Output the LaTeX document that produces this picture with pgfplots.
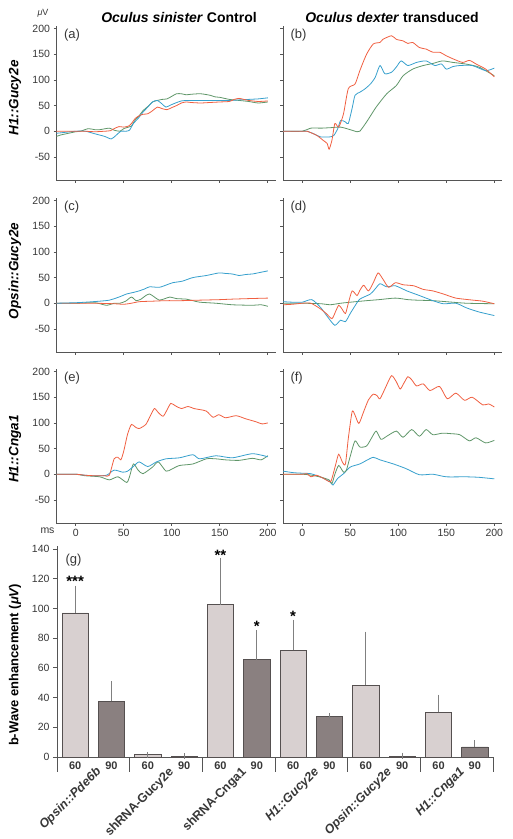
\documentclass[border=0pt]{standalone}
\usepackage{fontspec}
\setmainfont{Liberation Sans}
\usepackage{pgfplots}
\pgfplotsset{compat=1.18}
\definecolor{cred}{RGB}{240,95,65}
\definecolor{cblue}{RGB}{55,160,205}
\definecolor{cgreen}{RGB}{95,150,105}
\definecolor{axgray}{RGB}{85,85,85}
\definecolor{txtgray}{RGB}{55,55,55}
\definecolor{barlight}{RGB}{216,208,208}
\definecolor{bardark}{RGB}{138,128,128}
\definecolor{baredge}{RGB}{85,80,80}
\pgfplotsset{
  erg/.style={scale only axis, width=219pt, height=154pt, anchor=south west,
    xmin=-20, xmax=208, ymin=-95, ymax=205, clip mode=individual,
    axis lines=left, axis line style={-, draw=axgray, line width=0.8pt},
    tick align=outside, major tick length=3pt, tick style={draw=axgray, line width=0.7pt},
    xtick={0,50,100,150,200}, ytick={-50,0,50,100,150,200},
    tick label style={font=\fontsize{10.5}{12}\selectfont, text=txtgray},
    /pgf/number format/assume math mode=true,
    every axis plot/.append style={line width=0.8pt, no markers, smooth, tension=0.4},
  },
}
\tikzset{plab/.style={anchor=west, font=\fontsize{13}{14}\selectfont, text=txtgray, xshift=4pt, yshift=-9pt}}
\begin{document}
\begin{tikzpicture}
\useasboundingbox (0,0) rectangle (512pt,839pt);
% (a)
\begin{axis}[erg, at={(56.5pt,659pt)}, xticklabels={}]
\addplot[cgreen] coordinates {(-20,-10)(-15,-7)(-10,-5)(-5,-3)(0,-1)(5,0)(13,5)(20,3)(25,3)(35,6)(40,2)(46,0)(50,5)(55,8)(58,10)(62,22)(66,30)(70,40)(75,48)(80,57)(85,60)(90,62)(95,63)(100,68)(105,73)(110,73)(115,71)(120,72)(130,73)(140,70)(145,67)(150,66)(160,62)(170,60)(180,58)(190,55)(200,57)};
\addplot[cblue] coordinates {(-20,-4)(-10,-2)(0,0)(10,0)(20,-5)(30,-10)(37,-15)(42,-8)(47,0)(52,0)(56,2)(60,15)(65,25)(70,37)(75,47)(80,57)(85,60)(90,53)(94,47)(100,52)(110,59)(120,60)(140,60)(160,60)(170,61)(180,62)(190,63)(200,65)};
\addplot[cred] coordinates {(-20,0)(-10,0)(0,0)(10,0)(20,-1)(30,0)(36,1)(40,5)(45,9)(50,8)(55,10)(58,15)(62,25)(66,30)(70,33)(75,34)(80,40)(85,47)(90,44)(95,42)(100,46)(105,50)(110,55)(115,57)(120,56)(130,55)(140,56)(150,57)(160,58)(165,62)(170,64)(175,62)(180,60)(190,58)(200,59)};
\node[plab] at (rel axis cs:0,1) {(a)};
\end{axis}
% (b)
\begin{axis}[erg, at={(283pt,659pt)}, xticklabels={}, yticklabels={}]
\addplot[cgreen] coordinates {(-20,0)(0,0)(9,6)(20,6)(30,7)(40,8)(50,3)(57,-1)(60,0)(67,18)(77,47)(88,73)(98,89)(105,108)(115,121)(126,128)(136,132)(146,137)(157,134)(170,131)(184,125)(200,108)};
\addplot[cblue] coordinates {(-20,0)(0,0)(5,0)(12,-5)(19,-11)(29,-11)(33,-8)(37,5)(40,21)(45,18)(48,15)(52,45)(55,70)(60,76)(65,82)(71,92)(76,105)(81,128)(86,112)(93,115)(98,125)(103,137)(110,128)(119,134)(129,137)(138,128)(145,131)(150,121)(157,126)(164,128)(177,128)(191,118)(200,123)};
\addplot[cred] coordinates {(-20,0)(0,0)(5,0)(15,-8)(22,-18)(26,-24)(28,-35)(31,-17)(34,15)(38,8)(43,34)(48,83)(55,92)(60,118)(67,150)(74,170)(81,173)(84,179)(93,186)(98,179)(105,176)(110,171)(115,173)(122,163)(129,160)(136,154)(143,154)(150,147)(157,141)(167,134)(174,138)(181,131)(191,121)(200,106)};
\node[plab] at (rel axis cs:0,1) {(b)};
\end{axis}
% (c)
\begin{axis}[erg, at={(56.5pt,487pt)}, xticklabels={}]
\addplot[cgreen] coordinates {(-20,0)(0,0)(20,1)(32,-4)(40,0)(46,0)(52,4)(58,12)(63,5)(68,8)(73,15)(77,18)(82,12)(87,6)(93,9)(98,12)(105,9)(115,8)(122,5)(129,2)(146,0)(163,-3)(184,-4)(193,-3)(200,-6)};
\addplot[cred] coordinates {(-20,0)(0,0)(20,0)(40,-1)(50,-2)(58,0)(66,3)(80,4)(94,5)(110,5)(129,6)(150,7)(163,8)(180,9)(200,10)};
\addplot[cblue] coordinates {(-20,0)(0,1)(10,2)(25,4)(35,6)(45,12)(53,18)(60,21)(66,24)(72,28)(77,32)(87,31)(95,36)(101,40)(111,43)(122,50)(136,54)(149,59)(156,58)(163,57)(170,54)(177,56)(184,57)(192,60)(200,63)};
\node[plab] at (rel axis cs:0,1) {(c)};
\end{axis}
% (d)
\begin{axis}[erg, at={(283pt,487pt)}, xticklabels={}, yticklabels={}]
\addplot[cgreen] coordinates {(-20,0)(0,0)(20,-1)(29,-3)(40,0)(50,2)(67,5)(80,7)(97,10)(110,7)(119,6)(136,5)(150,3)(171,0)(200,-1)};
\addplot[cblue] coordinates {(-20,3)(-10,2)(0,2)(10,7)(19,-8)(27,-28)(34,-43)(40,-33)(45,-36)(50,-20)(55,-5)(60,8)(71,18)(76,28)(81,38)(88,32)(97,34)(109,24)(122,15)(136,5)(147,-1)(160,0)(171,-9)(184,-17)(200,-24)};
\addplot[cred] coordinates {(-20,-3)(-10,-2)(0,0)(9,0)(19,-11)(25,-20)(31,-30)(35,-15)(38,-4)(41,-10)(45,-20)(48,0)(52,24)(57,15)(60,25)(64,35)(69,24)(74,40)(79,59)(84,47)(90,31)(97,40)(105,36)(116,34)(126,27)(136,24)(147,18)(160,10)(178,6)(188,4)(200,-1)};
\node[plab] at (rel axis cs:0,1) {(d)};
\end{axis}
% (e)
\begin{axis}[erg, at={(56.5pt,316pt)}]
\addplot[cgreen] coordinates {(-20,0)(0,0)(10,-3)(25,-5)(35,-11)(44,-5)(53,-16)(56,-5)(60,20)(65,8)(70,1)(80,14)(86,24)(94,6)(100,10)(108,17)(122,20)(136,30)(146,30)(156,28)(170,27)(184,31)(193,28)(200,36)};
\addplot[cblue] coordinates {(-20,0)(0,0)(10,-2)(20,-3)(32,-2)(40,8)(49,4)(54,6)(60,15)(66,24)(75,15)(84,24)(94,30)(108,32)(122,38)(129,30)(146,36)(163,32)(184,40)(200,34)};
\addplot[cred] coordinates {(-20,0)(0,0)(10,-2)(20,-3)(30,-3)(35,-2)(40,30)(44,33)(47,28)(50,45)(54,78)(58,97)(62,92)(66,89)(73,97)(78,115)(82,128)(86,120)(91,113)(95,125)(99,138)(104,133)(110,128)(117,132)(123,128)(129,126)(136,123)(143,111)(149,116)(156,110)(167,114)(177,108)(188,102)(194,98)(200,100)};
\node[plab] at (rel axis cs:0,1) {(e)};
\node[font=\fontsize{10.5}{12}\selectfont, text=txtgray] at (rel axis cs:0,0) [xshift=-9pt, yshift=-8pt] {ms};
\end{axis}
% (f)
\begin{axis}[erg, at={(283pt,316pt)}, yticklabels={}]
\addplot[cblue] coordinates {(-20,6)(-9,3)(0,2)(9,1)(20,-6)(29,-15)(32,-21)(37,-8)(43,1)(50,14)(60,20)(67,27)(74,33)(81,28)(95,20)(108,11)(122,-1)(136,0)(150,-5)(170,-5)(184,-6)(200,-9)};
\addplot[cgreen] coordinates {(-20,0)(0,0)(10,-2)(20,-6)(28,-11)(31,-18)(34,0)(38,17)(43,4)(46,8)(50,35)(55,65)(60,53)(67,55)(72,70)(77,84)(82,68)(88,74)(98,84)(105,72)(114,87)(122,74)(129,87)(136,77)(146,80)(155,79)(164,77)(174,65)(181,71)(191,61)(200,66)};
\addplot[cred] coordinates {(-20,0)(0,0)(5,1)(9,-5)(15,-2)(22,-8)(29,-15)(31,-8)(35,20)(38,39)(42,23)(45,20)(48,70)(52,122)(55,115)(59,99)(64,122)(69,145)(74,156)(78,153)(81,147)(87,170)(93,192)(98,180)(102,166)(106,178)(110,190)(114,184)(119,172)(126,176)(133,163)(143,171)(151,147)(160,158)(169,144)(177,150)(188,135)(194,137)(200,131)};
\node[plab] at (rel axis cs:0,1) {(f)};
\end{axis}
% (g)
\begin{axis}[scale only axis, width=436pt, height=211pt, anchor=south west, at={(57pt,82pt)},
  xmin=0, xmax=12, ymin=0, ymax=142,
  axis lines=left, axis line style={-, draw=axgray, line width=0.9pt},
  tick align=outside, major tick length=4pt, tick style={draw=axgray, line width=0.8pt},
  ytick={0,20,...,140},
  xtick={0.5,1.5,...,11.5}, xticklabels={60,90,60,90,60,90,60,90,60,90,60,90},
  xtick style={draw=none},
  y tick label style={font=\fontsize{10.5}{12}\selectfont, text=txtgray},
  x tick label style={font=\bfseries\fontsize{11}{12}\selectfont, text=txtgray, yshift=2.5pt},
  /pgf/number format/assume math mode=true,
  clip=false]
\addplot[ybar, bar width=0.72, bar shift=0, fill=barlight, draw=baredge, line width=0.7pt,
  error bars/.cd, y dir=plus, y explicit,
  error bar style={draw=gray, line width=0.9pt},
  error mark options={draw=gray, mark size=3pt, line width=0.9pt}]
  coordinates {(0.5,97) +- (0,16.3) (2.5,1.5) +- (0,0) (4.5,102.5) +- (0,29.3) (6.5,72) +- (0,18.5) (8.5,48.3) +- (0,34) (10.5,30) +- (0,10)};
\addplot[ybar, bar width=0.72, bar shift=0, fill=bardark, draw=baredge, line width=0.7pt,
  error bars/.cd, y dir=plus, y explicit,
  error bar style={draw=gray, line width=0.9pt},
  error mark options={draw=gray, mark size=3pt, line width=0.9pt}]
  coordinates {(1.5,37.5) +- (0,11.5) (3.5,0.4) +- (0,0) (5.5,65.5) +- (0,18) (7.5,27.3) +- (0,0.3) (9.5,0.5) +- (0,0.5) (11.5,6.8) +- (0,2.5)};
\draw[axgray, line width=0.9pt] (axis cs:0,0) -- ++(0,-15pt);
\draw[axgray, line width=0.9pt] (axis cs:2,0) -- ++(0,-15pt);
\draw[axgray, line width=0.9pt] (axis cs:4,0) -- ++(0,-15pt);
\draw[axgray, line width=0.9pt] (axis cs:6,0) -- ++(0,-15pt);
\draw[axgray, line width=0.9pt] (axis cs:8,0) -- ++(0,-15pt);
\draw[axgray, line width=0.9pt] (axis cs:10,0) -- ++(0,-15pt);
\draw[axgray, line width=0.9pt] (axis cs:12,0) -- ++(0,-15pt);
\node[font=\bfseries\fontsize{15}{15}\selectfont, anchor=base] at (axis cs:0.5,115) {***};
\node[font=\bfseries\fontsize{15}{15}\selectfont, anchor=base] at (axis cs:4.5,132.5) {**};
\node[font=\bfseries\fontsize{15}{15}\selectfont, anchor=base] at (axis cs:5.5,84.5) {*};
\node[font=\bfseries\fontsize{15}{15}\selectfont, anchor=base] at (axis cs:6.5,91.5) {*};
\node[anchor=west, font=\fontsize{13}{14}\selectfont, text=txtgray] at (rel axis cs:0,1) [xshift=5pt, yshift=-14pt] {(g)};
\begin{scope}[every node/.style={xshift=6pt, yshift=-13pt, rotate=45, anchor=east, inner sep=0pt, font=\bfseries\fontsize{12.5}{14}\selectfont, text=txtgray}]
\node at (axis cs:1,0) {\itshape Opsin::Pde6b};
\node at (axis cs:3,0) {shRNA-Gucy2e};
\node at (axis cs:5,0) {shRNA-Cnga1};
\node at (axis cs:7,0) {\itshape H1::Gucy2e};
\node at (axis cs:9,0) {\itshape Opsin::Gucy2e};
\node at (axis cs:11,0) {\itshape H1::Cnga1};
\end{scope}
\end{axis}
% titles and row labels
\node[font=\fontsize{9}{10}\selectfont, text=txtgray] at (43pt,826pt) {{\itshape μ}V};
\node[font=\bfseries\fontsize{14}{16}\selectfont] at (179pt,821pt) {\textit{Oculus sinister} Control};
\node[font=\bfseries\fontsize{14}{16}\selectfont] at (392pt,821pt) {\textit{Oculus dexter} transduced};
\node[rotate=90, font=\bfseries\itshape\fontsize{13.5}{15}\selectfont] at (15pt,741pt) {H1::Gucy2e};
\node[rotate=90, font=\bfseries\itshape\fontsize{13.5}{15}\selectfont] at (15pt,568pt) {Opsin::Gucy2e};
\node[rotate=90, font=\bfseries\itshape\fontsize{13.5}{15}\selectfont] at (15pt,390pt) {H1::Cnga1};
\node[rotate=90, font=\bfseries\fontsize{13}{15}\selectfont] at (15pt,174pt) {b-Wave enhancement ({\itshape μV})};
\end{tikzpicture}
\end{document}
